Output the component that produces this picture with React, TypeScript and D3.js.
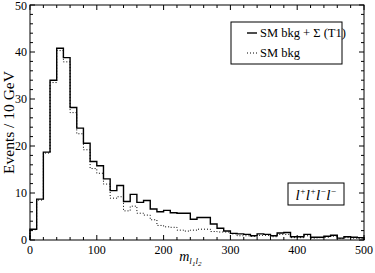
import React from 'react';
import * as d3 from 'd3';

// bin lower edges (GeV), 10 GeV bins
const binEdges: number[] = d3.range(0, 500, 10);

// SM bkg + Sigma (T1)
const signalPlusBkg: number[] = [
  2.3, 8.7, 18.7, 34.0, 40.8, 38.8, 28.2, 23.8, 20.6, 16.7,
  15.8, 13.0, 10.5, 11.6, 8.2, 9.7, 8.0, 8.4, 6.6, 6.0,
  6.3, 5.8, 5.7, 5.7, 4.4, 4.8, 4.8, 3.4, 2.5, 1.9,
  1.4, 1.3, 1.2, 0.9, 1.3, 1.2, 0.9, 1.5, 1.6, 0.7,
  0.7, 1.2, 0.6, 0.6, 0.8, 1.0, 0.4, 0.7, 0.6, 0.5,
];

// SM bkg only
const smBkg: number[] = [
  2.2, 8.5, 18.5, 33.5, 40.3, 37.9, 27.1, 22.6, 19.2, 15.2,
  14.2, 11.9, 8.9, 9.2, 6.2, 7.2, 5.7, 5.3, 4.3, 3.1,
  2.8, 2.7, 2.1, 1.9, 2.1, 2.3, 2.3, 1.8, 1.7, 1.7,
  1.3, 0.9, 0.9, 0.8, 1.0, 1.0, 0.7, 1.2, 1.2, 0.5,
  0.5, 0.9, 0.4, 0.5, 0.6, 0.8, 0.3, 0.5, 0.4, 0.3,
];

const xTicks: number[] = [0, 100, 200, 300, 400, 500];
const yTicks: number[] = [0, 10, 20, 30, 40, 50];
const legendLabels: string[] = ['SM bkg + \u03A3 (T1)', 'SM bkg'];

const W = 375;
const H = 273;
const margin = { top: 5, right: 11, bottom: 33, left: 30 };
const font = '"Liberation Serif", "DejaVu Serif", serif';

const App: React.FC = () => {
  const x = d3.scaleLinear().domain([0, 500]).range([margin.left, W - margin.right]);
  const y = d3.scaleLinear().domain([0, 50]).range([H - margin.bottom, margin.top]);

  const stepLine = d3.line<[number, number]>()
    .x(d => x(d[0]))
    .y(d => y(d[1]))
    .curve(d3.curveStepAfter);

  const histPath = (vals: number[]) => {
    const pts: [number, number][] = [[0, 0]];
    binEdges.forEach((e, i) => pts.push([e, vals[i]]));
    pts.push([500, vals[vals.length - 1]]);
    pts.push([500, 0]);
    return stepLine(pts) || '';
  };

  const x0 = x(0), x1 = x(500), y0 = y(0), y1 = y(50);
  const xMinor = d3.range(0, 501, 20).filter(v => v % 100 !== 0);
  const yMinor = d3.range(0, 51, 2).filter(v => v % 10 !== 0);
  const major = 5;
  const minor = 3;

  return (
    <div style={{ position: 'absolute', left: 0, top: 0 }}>
      <svg width={W} height={H} style={{ display: 'block', background: '#fff' }}>
        {/* histograms */}
        <path d={histPath(smBkg)} fill="none" stroke="#000" strokeWidth={1} strokeDasharray="1,2" />
        <path d={histPath(signalPlusBkg)} fill="none" stroke="#000" strokeWidth={1.4} />

        {/* frame */}
        <rect x={x0} y={y1} width={x1 - x0} height={y0 - y1} fill="none" stroke="#000" strokeWidth={1} />

        {/* ticks on all four sides, pointing in */}
        <g stroke="#000" strokeWidth={1}>
          {xTicks.map(v => (
            <g key={'xm' + v}>
              <line x1={x(v)} x2={x(v)} y1={y0} y2={y0 - major} />
              <line x1={x(v)} x2={x(v)} y1={y1} y2={y1 + major} />
            </g>
          ))}
          {xMinor.map(v => (
            <g key={'xn' + v}>
              <line x1={x(v)} x2={x(v)} y1={y0} y2={y0 - minor} />
              <line x1={x(v)} x2={x(v)} y1={y1} y2={y1 + minor} />
            </g>
          ))}
          {yTicks.map(v => (
            <g key={'ym' + v}>
              <line x1={x0} x2={x0 + major} y1={y(v)} y2={y(v)} />
              <line x1={x1} x2={x1 - major} y1={y(v)} y2={y(v)} />
            </g>
          ))}
          {yMinor.map(v => (
            <g key={'yn' + v}>
              <line x1={x0} x2={x0 + minor} y1={y(v)} y2={y(v)} />
              <line x1={x1} x2={x1 - minor} y1={y(v)} y2={y(v)} />
            </g>
          ))}
        </g>

        {/* tick labels */}
        <g fontFamily={font} fontSize={12} fill="#000">
          {xTicks.map(v => (
            <text key={'xl' + v} x={x(v)} y={y0 + 14} textAnchor="middle">{v}</text>
          ))}
          {yTicks.map(v => (
            <text key={'yl' + v} x={x0 - 3} y={Math.max(y(v) + 4, 10)} textAnchor="end">{v}</text>
          ))}
        </g>

        {/* axis titles */}
        <text
          transform={`translate(14,${(y0 + y1) / 2}) rotate(-90)`}
          textAnchor="middle"
          fontFamily={font}
          fontSize={15.5}
        >
          Events / 10 GeV
        </text>
        <text x={x(240)} y={y0 + 21} textAnchor="middle" fontFamily={font} fontSize={14} fontStyle="italic">
          m
          <tspan fontSize={9} dy={3}>l</tspan>
          <tspan fontSize={7} dy={2}>1</tspan>
          <tspan fontSize={9} dy={-2}>l</tspan>
          <tspan fontSize={7} dy={2}>2</tspan>
        </text>

        {/* legend */}
        <rect x={231} y={22} width={111} height={42} fill="#fff" stroke="#000" strokeWidth={1} />
        <line x1={247} x2={257} y1={33} y2={33} stroke="#000" strokeWidth={1.4} />
        <line x1={247} x2={257} y1={53} y2={53} stroke="#000" strokeWidth={1} strokeDasharray="1,2" />
        <text x={260} y={37} fontFamily={font} fontSize={12.5}>{legendLabels[0]}</text>
        <text x={260} y={57} fontFamily={font} fontSize={12.5}>{legendLabels[1]}</text>

        {/* channel label */}
        <rect x={288} y={183} width={56} height={22} fill="#fff" stroke="#000" strokeWidth={1} />
        <text x={316} y={200} textAnchor="middle" fontFamily={font} fontSize={15} fontStyle="italic">
          l<tspan fontSize={9} dy={-6}>+</tspan>
          <tspan dy={6}>l</tspan><tspan fontSize={9} dy={-6}>+</tspan>
          <tspan dy={6}>l</tspan><tspan fontSize={9} dy={-6}>{'\u2212'}</tspan>
          <tspan dy={6}>l</tspan><tspan fontSize={9} dy={-6}>{'\u2212'}</tspan>
        </text>
      </svg>
    </div>
  );
};

export default App;
